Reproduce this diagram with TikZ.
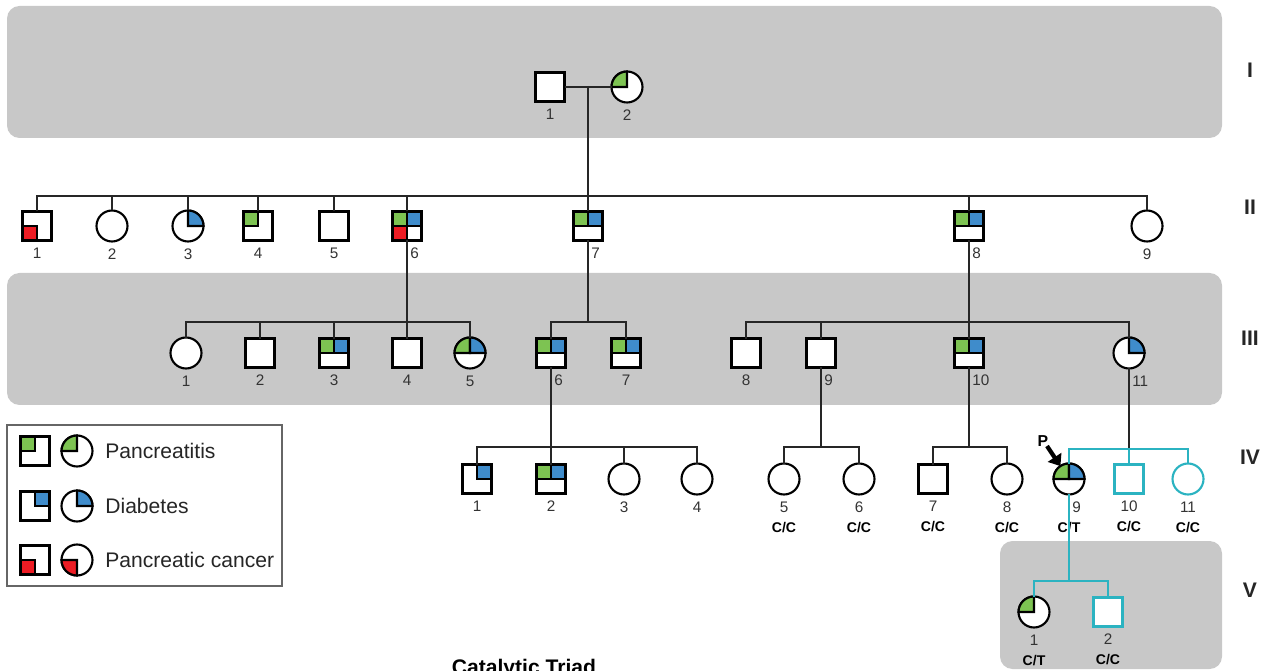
\documentclass[tikz,border=0pt]{standalone}
\usepackage{fontspec}
\setmainfont{Liberation Sans}
\usetikzlibrary{arrows.meta}

\definecolor{bandgray}{HTML}{C8C8C8}
\definecolor{pancol}{HTML}{7DC352}
\definecolor{diacol}{HTML}{3F8CCB}
\definecolor{cancol}{HTML}{ED1C24}
\definecolor{tested}{HTML}{2BB3C1}

\tikzset{
  indiv/.style={draw=black, line width=1.2pt, fill=white, inner sep=0pt, outer sep=0pt},
  male/.style={indiv, rectangle, minimum size=0.58cm},
  female/.style={indiv, circle, minimum size=0.62cm},
  testedind/.style={draw=tested},
  num/.style={font=\fontsize{8.7}{10}\selectfont, text=black!80, inner sep=0pt, label distance=4pt},
  numr/.style={num, anchor=north west, xshift=0.06cm},
  geno/.style={font=\bfseries\fontsize{8}{9}\selectfont, inner sep=0pt, label distance=15.5pt},
  gen/.style={font=\bfseries\fontsize{12}{14}\selectfont, text=black!85},
  link/.style={draw=black!85, line width=0.9pt},
  testedlink/.style={draw=tested, line width=0.9pt},
  band/.style={fill=bandgray, rounded corners=0.25cm},
  legtext/.style={font=\fontsize{12}{14}\selectfont, text=black!85, anchor=west, inner sep=0pt}
}

% affected quarters: square corner, circle sector
\newcommand{\sqq}[3]{\filldraw[fill=#2, line width=1.2pt] (#1.center) rectangle (#1.#3);}
\newcommand{\ciq}[3]{\filldraw[fill=#2, line width=1.2pt] (#1.center) -- (#1.#3) arc[start angle=#3, delta angle=90, radius=0.31cm] -- cycle;}

\begin{document}
\begin{tikzpicture}[x=0.02cm, y=0.02cm]
\useasboundingbox (0,0) rectangle (1263,-671);

\fill[band] (7,-6) rectangle (1222,-138);
\fill[band] (7,-273) rectangle (1222,-405);
\fill[band] (1000,-541) rectangle (1222,-669);

\node[gen] (gI) at (1250,-70) {I};
\node[gen] (gII) at (1250,-207) {II};
\node[gen] (gIII) at (1250,-338) {III};
\node[gen] (gIV) at (1250,-457) {IV};
\node[gen] (gV) at (1250,-590) {V};

% generation I
\node[male, label={[num]below:1}] (i1) at (550,-87) {};
\node[female, label={[num]below:2}] (i2) at (627,-87) {};
\ciq{i2}{pancol}{90}

% generation II
\node[male, label={[num]below:1}] (ii1) at (37,-226) {};
\node[female, label={[num]below:2}] (ii2) at (112,-226) {};
\node[female, label={[num]below:3}] (ii3) at (188,-226) {};
\node[male, label={[num]below:4}] (ii4) at (258,-226) {};
\node[male, label={[num]below:5}] (ii5) at (334,-226) {};
\node[male, label={[numr]below:6}] (ii6) at (407,-226) {};
\node[male, label={[numr]below:7}] (ii7) at (588,-226) {};
\node[male, label={[numr]below:8}] (ii8) at (969,-226) {};
\node[female, label={[num]below:9}] (ii9) at (1147,-226) {};
\sqq{ii1}{cancol}{south west}
\ciq{ii3}{diacol}{0}
\sqq{ii4}{pancol}{north west}
\sqq{ii6}{pancol}{north west} \sqq{ii6}{diacol}{north east} \sqq{ii6}{cancol}{south west}
\sqq{ii7}{pancol}{north west} \sqq{ii7}{diacol}{north east}
\sqq{ii8}{pancol}{north west} \sqq{ii8}{diacol}{north east}

% generation III
\node[female, label={[num]below:1}] (iii1) at (186,-353) {};
\node[male, label={[num]below:2}] (iii2) at (260,-353) {};
\node[male, label={[num]below:3}] (iii3) at (334,-353) {};
\node[male, label={[num]below:4}] (iii4) at (407,-353) {};
\node[female, label={[num]below:5}] (iii5) at (470,-353) {};
\node[male, label={[numr]below:6}] (iii6) at (551,-353) {};
\node[male, label={[num]below:7}] (iii7) at (626,-353) {};
\node[male, label={[num]below:8}] (iii8) at (746,-353) {};
\node[male, label={[numr]below:9}] (iii9) at (821,-353) {};
\node[male, label={[numr]below:10}] (iii10) at (969,-353) {};
\node[female, label={[numr]below:11}] (iii11) at (1129,-353) {};
\sqq{iii3}{pancol}{north west} \sqq{iii3}{diacol}{north east}
\ciq{iii5}{pancol}{90} \ciq{iii5}{diacol}{0}
\sqq{iii6}{pancol}{north west} \sqq{iii6}{diacol}{north east}
\sqq{iii7}{pancol}{north west} \sqq{iii7}{diacol}{north east}
\sqq{iii10}{pancol}{north west} \sqq{iii10}{diacol}{north east}
\ciq{iii11}{diacol}{0}

% generation IV
\node[male, label={[num]below:1}] (iv1) at (477,-479) {};
\node[male, label={[num]below:2}] (iv2) at (551,-479) {};
\node[female, label={[num]below:3}] (iv3) at (624,-479) {};
\node[female, label={[num]below:4}] (iv4) at (697,-479) {};
\node[female, label={[num]below:5}, label={[geno]below:C/C}] (iv5) at (784,-479) {};
\node[female, label={[num]below:6}, label={[geno]below:C/C}] (iv6) at (859,-479) {};
\node[male, label={[num]below:7}, label={[geno]below:C/C}] (iv7) at (933,-479) {};
\node[female, label={[num]below:8}, label={[geno]below:C/C}] (iv8) at (1007,-479) {};
\node[female, label={[numr]below:9}, label={[geno]below:C/T}] (iv9) at (1069,-479) {};
\node[male, testedind, label={[num]below:10}, label={[geno]below:C/C}] (iv10) at (1129,-479) {};
\node[female, testedind, label={[num]below:11}, label={[geno]below:C/C}] (iv11) at (1188,-479) {};
\sqq{iv1}{diacol}{north east}
\sqq{iv2}{pancol}{north west} \sqq{iv2}{diacol}{north east}
\ciq{iv9}{pancol}{90} \ciq{iv9}{diacol}{0}

% generation V
\node[female, label={[num]below:1}, label={[geno]below:C/T}] (v1) at (1034,-612) {};
\node[male, testedind, label={[num]below:2}, label={[geno]below:C/C}] (v2) at (1108,-612) {};
\ciq{v1}{pancol}{90}

% lines of descent
\coordinate (mar1) at (588,-86);
\coordinate (sib2) at (588,-196);
\coordinate (sib3a) at (407,-322);
\coordinate (sib3b) at (588,-322);
\coordinate (sib3c) at (969,-322);
\coordinate (sib4a) at (551,-447);
\coordinate (sib4b) at (821,-447);
\coordinate (sib4c) at (969,-447);
\coordinate (sib4d) at (1129,-449);
\coordinate (sib5) at (1069,-581);

\draw[link] (i1) -- (i2);
\draw[link] (mar1) -- (sib2);
\foreach \c in {ii1,ii2,ii3,ii4,ii5,ii6,ii7,ii8,ii9} \draw[link] (\c) |- (sib2);
\draw[link] (ii6) -- (sib3a);
\foreach \c in {iii1,iii2,iii3,iii4,iii5} \draw[link] (\c) |- (sib3a);
\draw[link] (ii7) -- (sib3b);
\foreach \c in {iii6,iii7} \draw[link] (\c) |- (sib3b);
\draw[link] (ii8) -- (sib3c);
\foreach \c in {iii8,iii9,iii10,iii11} \draw[link] (\c) |- (sib3c);
\draw[link] (iii6) -- (sib4a);
\foreach \c in {iv1,iv2,iv3,iv4} \draw[link] (\c) |- (sib4a);
\draw[link] (iii9) -- (sib4b);
\foreach \c in {iv5,iv6} \draw[link] (\c) |- (sib4b);
\draw[link] (iii10) -- (sib4c);
\foreach \c in {iv7,iv8} \draw[link] (\c) |- (sib4c);
\draw[link] (iii11) -- (sib4d);
\foreach \c in {iv9,iv10,iv11} \draw[testedlink] (\c) |- (sib4d);
\draw[testedlink] (iv9) -- (sib5);
\foreach \c in {v1,v2} \draw[testedlink] (\c) |- (sib5);

% proband
\coordinate (parr) at (1047,-446);
\node[font=\bfseries\fontsize{9}{10}\selectfont] (plabel) at (1043,-441) {P};
\draw[-{Triangle[length=6pt,width=9pt]}, line width=2.4pt] (parr) -- (iv9);

% legend
\draw[draw=black!60, line width=0.8pt, fill=white] (7,-425) rectangle (282,-586);
\node[male] (lsq1) at (35,-451) {};
\node[female] (lci1) at (77,-451) {};
\node[legtext] (lt1) at (105,-451) {Pancreatitis};
\node[male] (lsq2) at (35,-506) {};
\node[female] (lci2) at (77,-506) {};
\node[legtext] (lt2) at (105,-506) {Diabetes};
\node[male] (lsq3) at (35,-560) {};
\node[female] (lci3) at (77,-560) {};
\node[legtext] (lt3) at (105,-560) {Pancreatic cancer};
\sqq{lsq1}{pancol}{north west} \ciq{lci1}{pancol}{90}
\sqq{lsq2}{diacol}{north east} \ciq{lci2}{diacol}{0}
\sqq{lsq3}{cancol}{south west} \ciq{lci3}{cancol}{180}

\node[font=\bfseries\fontsize{12}{14}\selectfont, anchor=north, inner sep=0pt] (cat) at (524,-659) {Catalytic Triad};
\end{tikzpicture}
\end{document}
